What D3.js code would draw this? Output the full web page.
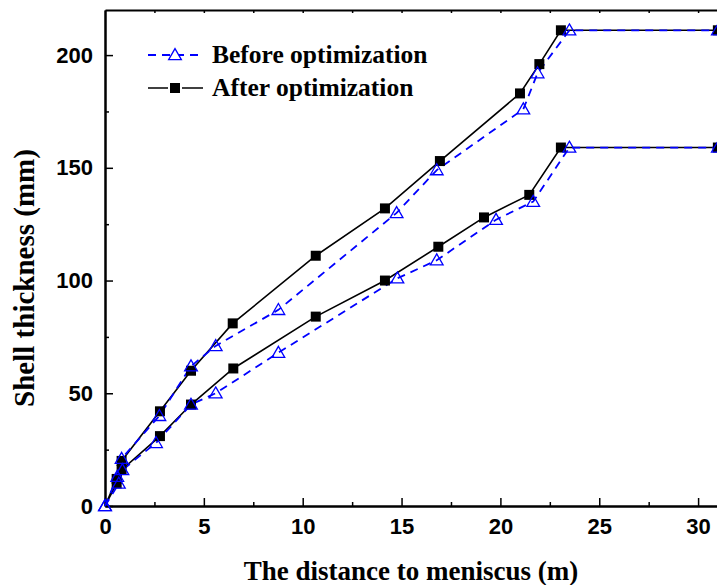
<!DOCTYPE html>
<html>
<head>
<meta charset="utf-8">
<script src="https://cdn.jsdelivr.net/npm/d3@7"></script>
<style>
  body { margin: 0; background: #fff; }
  svg { display: block; }
</style>
</head>
<body>
<div id="chart"></div>
<script>
// shell thickness vs distance to meniscus, two faces, before / after
var beforeUpper = [[0, 0], [0.62, 13], [0.84, 21], [2.75, 40], [4.35, 62], [5.6, 71], [8.77, 87],
    [14.75, 130], [16.78, 149], [21.16, 176], [21.88, 192], [23.49, 211], [31, 211]];
var beforeLower = [[0, 0], [0.7, 10], [0.88, 16], [2.58, 28], [4.35, 45], [5.6, 50], [8.77, 68],
    [14.79, 101], [16.78, 109], [19.78, 127], [21.66, 135], [23.49, 159], [31, 159]];
var afterUpper = [[0, 0], [0.59, 12], [0.84, 20], [2.78, 42], [4.35, 60], [6.46, 81], [10.66, 111],
    [14.16, 132], [16.94, 153], [20.99, 183], [21.97, 196], [23.06, 211], [31, 211]];
var afterLower = [[0, 0], [0.59, 10], [0.84, 16], [2.78, 31], [4.35, 45], [6.49, 61], [10.66, 84],
    [14.16, 100], [16.86, 115], [19.17, 128], [21.46, 138], [23.06, 159], [31, 159]];

var xTicks = [0, 5, 10, 15, 20, 25, 30];
var yTicks = [0, 50, 100, 150, 200];
var legendLabels = ["Before optimization", "After optimization"];

var width = 717, height = 585;
var plotLeft = 105, plotTop = 10, plotBottom = 506;

var svg = d3.select("#chart").append("svg")
    .attr("width", width)
    .attr("height", height);

var x = d3.scaleLinear().domain([0, 31]).range([plotLeft, plotLeft + 31 * 19.77]);
var y = d3.scaleLinear().domain([0, 220]).range([plotBottom, plotTop]);

var tickFont = "'Liberation Sans', Arial, sans-serif";
var serif = "'Liberation Serif', 'Times New Roman', serif";

// axes, ticks point inward
var xAxis = d3.axisBottom(x).tickValues(xTicks).tickSizeInner(-8).tickSizeOuter(0).tickPadding(12);
var xMinor = d3.axisBottom(x).tickValues(d3.range(2.5, 31, 5)).tickSizeInner(-4).tickSizeOuter(0).tickFormat("");
var xTop = d3.axisTop(x).tickValues(d3.range(2.5, 31, 2.5)).tickSizeInner(-3).tickSizeOuter(0).tickFormat("");
var yAxis = d3.axisLeft(y).tickValues(yTicks).tickSizeInner(-8).tickSizeOuter(0).tickPadding(12);
var yMinor = d3.axisLeft(y).tickValues([25, 75, 125, 175]).tickSizeInner(-4).tickSizeOuter(0).tickFormat("");

function styleAxis(g) {
    g.select(".domain").attr("stroke", "#000").attr("stroke-width", 2);
    g.selectAll(".tick line").attr("stroke", "#000").attr("stroke-width", 1.5);
    g.selectAll("text")
        .style("font-family", tickFont)
        .style("font-weight", "bold")
        .style("font-size", "22px")
        .attr("fill", "#000");
}

svg.append("g").attr("transform", "translate(0," + plotBottom + ")").call(xAxis).call(styleAxis);
svg.append("g").attr("transform", "translate(0," + plotBottom + ")").call(xMinor).call(styleAxis);
svg.append("g").attr("transform", "translate(0," + plotTop + ")").call(xTop).call(styleAxis);
svg.append("g").attr("transform", "translate(" + plotLeft + ",0)").call(yAxis).call(styleAxis);
svg.append("g").attr("transform", "translate(" + plotLeft + ",0)").call(yMinor).call(styleAxis);

var line = d3.line()
    .x(function(d) { return x(d[0]); })
    .y(function(d) { return y(d[1]); });

function drawAfter(data) {
    svg.append("path").datum(data)
        .attr("d", line)
        .attr("fill", "none")
        .attr("stroke", "#000")
        .attr("stroke-width", 1.6);
}

function drawBefore(data) {
    svg.append("path").datum(data)
        .attr("d", line)
        .attr("fill", "none")
        .attr("stroke", "#0000ff")
        .attr("stroke-width", 1.8)
        .attr("stroke-dasharray", "8,6");
}

drawAfter(afterUpper);
drawAfter(afterLower);
drawBefore(beforeUpper);
drawBefore(beforeLower);

var square = d3.symbol().type(d3.symbolSquare).size(100);
var triangle = d3.symbol().type(d3.symbolTriangle).size(70);

function squares(data) {
    svg.append("g").selectAll("path")
        .data(data.slice(1))
        .enter().append("path")
        .attr("d", square)
        .attr("transform", function(d) { return "translate(" + x(d[0]) + "," + y(d[1]) + ")"; })
        .attr("fill", "#000");
}

function triangles(data) {
    svg.append("g").selectAll("path")
        .data(data)
        .enter().append("path")
        .attr("d", triangle)
        .attr("transform", function(d) { return "translate(" + x(d[0]) + "," + (y(d[1]) + 1) + ")"; })
        .attr("fill", "none")
        .attr("stroke", "#0000ff")
        .attr("stroke-width", 1.3);
}

squares(afterUpper);
squares(afterLower);
triangles(beforeUpper);
triangles(beforeLower);

// legend
var legend = svg.append("g");
legendLabels.forEach(function(label, i) {
    var ly = 55 + i * 33;
    var row = legend.append("g");
    if (i === 0) {
        row.append("line").attr("x1", 148).attr("x2", 203).attr("y1", ly).attr("y2", ly)
            .attr("stroke", "#0000ff").attr("stroke-width", 1.8).attr("stroke-dasharray", "8,6");
        row.append("path").attr("d", triangle)
            .attr("transform", "translate(175," + (ly + 1) + ")")
            .attr("fill", "#fff").attr("stroke", "#0000ff").attr("stroke-width", 1.3);
    } else {
        row.append("line").attr("x1", 148).attr("x2", 203).attr("y1", ly).attr("y2", ly)
            .attr("stroke", "#000").attr("stroke-width", 1.6);
        row.append("rect").attr("x", 168).attr("y", ly - 7).attr("width", 14).attr("height", 14)
            .attr("fill", "#fff");
        row.append("path").attr("d", square)
            .attr("transform", "translate(175," + ly + ")").attr("fill", "#000");
    }
    row.append("text")
        .attr("x", 212).attr("y", ly + 8)
        .style("font-family", serif)
        .style("font-weight", "bold")
        .style("font-size", "25.5px")
        .text(label);
});

// axis titles
svg.append("text")
    .attr("x", 411).attr("y", 580)
    .attr("text-anchor", "middle")
    .style("font-family", serif)
    .style("font-weight", "bold")
    .style("font-size", "27px")
    .text("The distance to meniscus (m)");

svg.append("text")
    .attr("transform", "translate(34,278) rotate(-90)")
    .attr("text-anchor", "middle")
    .style("font-family", serif)
    .style("font-weight", "bold")
    .style("font-size", "29px")
    .text("Shell thickness (mm)");
</script>
</body>
</html>
